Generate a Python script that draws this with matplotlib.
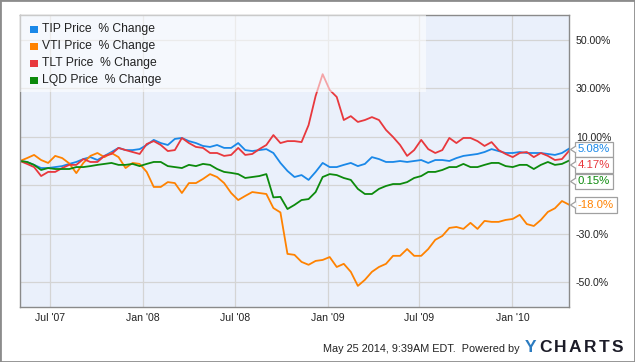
import matplotlib.pyplot as plt
import pandas as pd
from matplotlib.patches import Rectangle, Polygon

plt.rcParams['font.family'] = ['Liberation Sans', 'DejaVu Sans']

# % change since start, roughly every two weeks (May '07 - Apr '10)
start, end = '2007-05-03', '2010-04-23'

tip = [0, -0.4, -1.6, -2.9, -2.9, -2.5, -2.1, -1.2, -0.4, 0.8,
       1.6, 0.4, 2.1, 3.7, 5.4, 4.5, 4.5, 4.9, 6.6, 8.7,
       7.4, 6.6, 9.1, 9.5, 8.2, 7.4, 6.2, 5.8, 6.6, 5.4,
       5.4, 7.4, 4.5, 4.1, 4.5, 4.9, 3.3, -0.8, -4.1, -6.6,
       -5.8, -7.8, -4.5, -0.8, -2.5, -2.5, -1.6, -0.8, -2.1, -1.2,
       1.6, 0.8, -0.4, -0.4, 0, -0.4, 0, 0.4, -0.8, 0.4,
       0.4, 0, 1.2, 2.1, 2.5, 2.9, 3.7, 4.9, 4.1, 3.3,
       3.3, 3.7, 3.3, 3.3, 3.3, 2.9, 2.5, 3.3, 5.08]

vti = [0, 1.2, 2.5, 0.4, -0.8, 2.1, 1.2, -1.0, -5.0, -0.8,
       2.1, 3.3, 1.6, 3.3, 1.6, -2.9, -0.8, -1.2, -4.5, -10.7,
       -10.7, -8.7, -9.1, -13.2, -9.1, -9.1, -7.4, -5.4, -6.6, -9.1,
       -13.2, -16.1, -14.4, -12.8, -13.2, -13.6, -19.4, -21.2, -38.3, -38.7,
       -41.6, -42.8, -41.2, -40.8, -39.6, -43.7, -42.4, -45.7, -51.5, -49.0,
       -45.7, -43.7, -42.4, -39.1, -39.1, -36.3, -39.1, -39.1, -36.3, -32.5,
       -30.9, -27.6, -27.2, -28.0, -25.5, -28.0, -24.7, -25.1, -25.1, -24.3,
       -23.9, -22.2, -26.0, -26.8, -24.3, -21.0, -19.5, -16.5, -18.0]

tlt = [0, -1.2, -2.5, -6.2, -4.5, -4.5, -2.9, -1.6, -1.6, 0.8,
       -0.4, -0.4, 2.1, 2.9, 5.4, 4.5, 3.7, 2.9, 7.0, 8.2,
       6.6, 4.1, 4.5, 9.5, 7.4, 5.8, 5.4, 3.3, 3.3, 2.1,
       2.5, 5.4, 2.5, 2.9, 4.9, 6.6, 10.7, 7.4, 8.2, 8.2,
       7.8, 14.8, 26.8, 35.8, 29.3, 26.4, 16.9, 18.5, 16.1, 16.9,
       18.1, 16.9, 12.8, 9.9, 6.6, 2.1, 4.5, 8.7, 4.9, 3.3,
       4.5, 9.5, 7.4, 9.5, 9.5, 8.2, 6.2, 7.8, 4.5, 2.9,
       1.6, 3.3, 3.7, 1.6, 3.3, 2.1, 0.4, 0.8, 4.17]

lqd = [0, -0.4, -1.6, -3.7, -2.9, -3.3, -3.3, -3.3, -2.5, -2.5,
       -2.1, -1.6, -1.2, -0.8, -1.6, -1.6, -1.2, -2.1, -1.2, -0.4,
       -0.4, -2.1, -2.5, -2.9, -1.6, -2.1, -1.2, -1.6, -3.3, -4.5,
       -4.9, -5.4, -7.0, -6.6, -6.2, -5.4, -15.0, -14.8, -19.8, -18.1,
       -16.1, -15.7, -12.8, -6.6, -5.4, -5.8, -7.0, -7.8, -11.5, -13.6,
       -13.6, -11.5, -10.3, -9.5, -9.5, -8.7, -7.0, -6.2, -4.5, -4.5,
       -3.7, -2.5, -2.5, -1.2, -2.5, -2.5, -1.6, -0.8, -0.8, -2.1,
       -2.5, -1.6, -1.6, -3.3, -1.6, -0.4, -1.6, -1.2, 0.15]

names = ['TIP Price  % Change', 'VTI Price  % Change', 'TLT Price  % Change', 'LQD Price  % Change']
colors = ['#1a88e8', '#ff8200', '#e8383d', '#0c8a0c']

xtick_dates = ['2007-07-01', '2008-01-01', '2008-07-01', '2009-01-01', '2009-07-01', '2010-01-01']
xtick_labels = ["Jul '07", "Jan '08", "Jul '08", "Jan '09", "Jul '09", "Jan '10"]
ytick_vals = [50, 30, 10, -10, -30, -50]
ytick_labels = ['50.00%', '30.00%', '10.00%', '', '-30.0%', '-50.0%']

W, H = 635, 362
def fx(x):
    return x / W
def fy(y):
    return 1 - y / H

fig = plt.figure(figsize=(6.35, 3.62), dpi=100)
fig.patch.set_facecolor('white')
ax = fig.add_axes([fx(20), fy(307), fx(569) - fx(20), fy(15) - fy(307)])
ax.set_facecolor('#eaf0fb')

for vals, c in zip([tip, vti, tlt, lqd], colors):
    d = pd.date_range(start, end, periods=len(vals))
    ax.plot(d, vals, color=c, lw=1.3, solid_joinstyle='round')

ax.set_xlim(pd.Timestamp(start), pd.Timestamp(end))
ax.set_ylim(-60.2, 60.2)
ax.set_xticks(pd.to_datetime(xtick_dates))
ax.set_xticklabels(xtick_labels)
ax.set_yticks(ytick_vals)
ax.set_yticklabels(ytick_labels)
ax.yaxis.tick_right()
ax.tick_params(axis='both', length=0, labelsize=7.6, colors='#222222')
ax.tick_params(axis='y', pad=5)
ax.tick_params(axis='x', pad=4)
ax.grid(True, color='#d4d4d4', lw=0.9)
ax.set_axisbelow(True)
for s in ax.spines.values():
    s.set_color('#8a8a8a')
    s.set_linewidth(1.0)

# translucent legend panel
ax.add_patch(Rectangle((0, (307 - 92) / 292), (426 - 20) / 549, 1, transform=ax.transAxes,
                       facecolor='white', alpha=0.55, edgecolor='none', zorder=5))
for i, (n, c) in enumerate(zip(names, colors)):
    yc = 29 + 17 * i
    fig.patches.append(Rectangle((fx(30), fy(yc + 4)), fx(7.5), 7.5 / H, transform=fig.transFigure,
                                 facecolor=c, edgecolor='none', zorder=10))
    fig.text(fx(42), fy(yc), n, fontsize=8.7, color='#222222', va='center', ha='left', zorder=10)

# end value boxes
end_labels = [('5.08%', 149.5, colors[0]), ('4.17%', 165, colors[2]),
              ('0.15%', 181.5, colors[3]), ('-18.0%', 205, colors[1])]
for txt, yc, c in end_labels:
    fig.text(fx(578), fy(yc), txt, fontsize=8.2, color=c, va='center', ha='left',
             bbox=dict(boxstyle='square,pad=0.25', facecolor='white', edgecolor='#a0a0a0', lw=0.9))
    fig.patches.append(Polygon([(fx(576), fy(yc - 3.5)), (fx(570.5), fy(yc)), (fx(576), fy(yc + 3.5))],
                               closed=False, transform=fig.transFigure, facecolor='white',
                               edgecolor='#a0a0a0', lw=0.9, zorder=11))

# footer
fig.text(fx(520), fy(349), 'May 25 2014, 9:39AM EDT.  Powered by', fontsize=7.8,
         color='#222222', ha='right', va='center')
logo_left = [525, 538.9, 553.8, 568.7, 583.6, 598.5, 611.4]
for ch, lx in zip('YCHARTS', logo_left):
    fig.text(fx(lx), fy(348), ch, fontsize=12.5, fontweight='bold',
             color='#2b7bc0' if ch == 'Y' else '#1c1c28', ha='left', va='center')

# outer frame
fig.patches.append(Rectangle((0, 0), 1, 1, transform=fig.transFigure, fill=False,
                             edgecolor='#8c8c8c', lw=2.0, zorder=20))

fig.savefig('out.png', dpi=100)
